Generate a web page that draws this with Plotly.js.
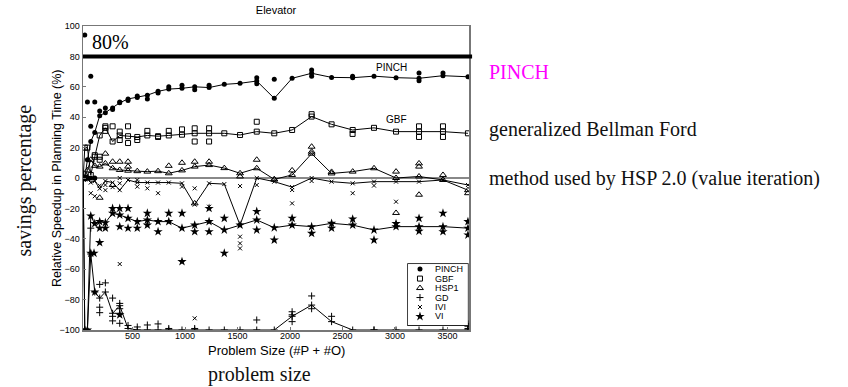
<!DOCTYPE html>
<html>
<head>
<meta charset="utf-8">
<script src="https://cdn.plot.ly/plotly-3.0.1.min.js"></script>
<style>html,body{margin:0;padding:0;background:#fff;}#chart{width:848px;height:387px;}</style>
</head>
<body>
<div id="chart"></div>
<script>
// problem sizes (#P + #O)
const sizes = [30, 45, 70, 102, 140, 187, 241, 310, 378, 457, 545, 641, 743, 845, 971, 1092, 1229, 1374, 1524, 1683, 1850, 2020, 2206, 2396, 2597, 2800, 3010, 3229, 3457, 3695];

// average relative speedup (%) per size
const pinchAvg = [0, 0, 12, 24, 30, 41, 43, 46, 49.5, 52, 53, 54.5, 57, 58.5, 59, 60, 59.5, 61.6, 62.3, 63.8, 52.4, 65.6, 68.9, 66.2, 66, 67, 66, 65.6, 67.3, 66.6];
const gbfAvg   = [0, 20, 20, 2, 14, 28, 33, 24, 28, 27.5, 27, 28, 27.5, 28, 28.5, 29.4, 29.4, 29.4, 28.3, 30.5, 29.4, 31.6, 40.4, 35.3, 31.6, 33, 30.5, 30.5, 30.5, 29.4];
const hsp1Avg  = [0, 0, 5, 12, 8, 7.5, 9.6, 6.4, 5.3, 4.8, 4.5, 4.2, 4.5, 3.1, 5, 7.5, 8.5, 6.5, 3.1, 6.4, -0.9, 2, 16, 3, 4.2, 6.4, 0, 1, -1.3, -8];
const gdAvg    = [0, -100, -100, -50, -75, -79, -75, -89, -84, -99, -100, -100, -100, -100, -100, -100, -100, -100, -100, -100, -100, -91, -83.6, -94.5, -100, -100, -100, -100, -100, -100];
const iviAvg   = [0, 0, 0, -3, -2, -7, -2, -3, -8, -1.3, -3, -3, -3, -3, -3.5, -17.5, -3.5, -4, -31, 0, -2.4, -6, 0, -2.4, -3.5, -2.4, -2.4, -2.4, -1.3, -4.6];
const viAvg    = [0, -100, -100, -25, -30, -28.7, -29.4, -23.2, -24.3, -26.5, -28.7, -27.6, -28.7, -28.7, -33, -31, -28.7, -34.2, -31, -27.6, -32.7, -31, -32, -29.8, -31, -34.2, -32, -32, -32, -33];

// individual runs (scatter)
const pinchRunX = [45, 70, 140, 102, 102, 30, 45, 70, 102, 140, 187, 241, 310, 378, 457, 545, 641, 743, 845, 971, 1092, 1850, 2206, 2206, 1683, 1683, 3229, 3229, 3457, 1229, 2596];
const pinchRunY = [94, 50, 50, 67, 34, 0, 0, 0, 0, 0, 44, 46, 45, 50, 51, 54, 52, 56, 60, 61, 58, 65, 71, 67, 66, 62, 64, 69, 69, 61, 67];
const gbfRunX = [140, 187, 187, 241, 241, 310, 378, 378, 457, 457, 545, 641, 743, 845, 971, 1092, 1092, 1229, 1229, 1683, 2206, 3229, 3229, 3457, 3457, 2596, 30, 45];
const gbfRunY = [15, 14, 12, 34, 31, 34, 30.5, 25, 34, 23, 25, 31, 27, 31, 32, 24, 32.7, 32.7, 24, 37, 42, 27, 34, 27, 34, 29, 0, 0];
const hsp1RunX = [241, 310, 187, 310, 378, 457, 457, 845, 971, 1092, 1229, 1524, 1683, 2206, 2206, 3010, 3229, 3229, 3229, 3010, 1092, 1850, 2020, 2396, 3457, 3695];
const hsp1RunY = [16, 10.7, -13, -4.6, 10.7, 10.7, 7.5, 8, 10, 10.7, 10.7, 1, 12, 20.6, 17.3, 4.2, 9.6, 7.5, -11, -23, -16.7, -1, 5, 4, 2, -10];
const gdRunX = [102, 187, 241, 187, 187, 310, 378, 378, 378, 310, 378, 310, 457, 545, 641, 743, 845, 1092, 1683, 2020, 2020, 2020, 2206, 2206, 2396, 2800, 3695, 3695, 3695];
const gdRunY = [-33, -70, -69, -85, -88.6, -79, -82.5, -86, -89, -91, -95.6, -94, -97, -98, -96.7, -96, -99, -99, -93.4, -88, -90, -94.5, -77.6, -86, -91, -100, -96, -97.5, -99];
const iviRunX = [241, 378, 378, 378, 545, 545, 641, 743, 1092, 1092, 1229, 1524, 1524, 1524, 1524, 2020, 2020, 1683, 2597, 3010, 187, 241, 310, 102, 140, 971, 2206, 2800];
const iviRunY = [-4.6, 0, -3.5, -56.6, -1.3, -5.7, -6.8, -10, -6.8, -92.3, -18.9, -5.3, -38.6, -43, -46.3, -7.9, -16.7, -4.6, -10, -15.6, -5, -8, -6, -10, -12, -5.7, -2, -5];
const viRunX = [30, 45, 70, 102, 133, 187, 187, 241, 310, 378, 457, 378, 457, 641, 743, 845, 971, 971, 1092, 1229, 1229, 1374, 1374, 1683, 1683, 1850, 2020, 2206, 2800, 3229, 3457, 3457, 3695, 3695, 140, 378, 545, 641, 2396, 2597, 3010, 3229];
const viRunY = [0, 0, 0, -49.5, -49.5, -42.5, -33, -33, -20, -20, -20, -32, -33, -23.2, -35.3, -23.2, -23.2, -55, -35.3, -20, -35.3, -26.5, -49.5, -22, -34.2, -40.8, -26.5, -36.4, -40.8, -26.5, -23.2, -35.3, -28.7, -37.5, -75, -90, -33, -31, -33, -27, -30, -35];

const seriesNames = ['PINCH', 'GBF', 'HSP1', 'GD', 'IVI', 'VI'];
const yTicks = [-100, -80, -60, -40, -20, 0, 20, 40, 60, 80, 100];
const xTicks = [500, 1000, 1500, 2000, 2500, 3000, 3500];

const markerStyles = [
  {symbol: 'circle', size: 5, color: '#000'},
  {symbol: 'square-open', size: 5, color: '#000', line: {width: 1, color: '#000'}},
  {symbol: 'triangle-up-open', size: 6, color: '#000', line: {width: 1, color: '#000'}},
  {symbol: 'cross-thin-open', size: 5, color: '#000', line: {width: 1, color: '#000'}},
  {symbol: 'x-thin-open', size: 4, color: '#000', line: {width: 1, color: '#000'}},
  {symbol: 'star', size: 7, color: '#000'}
];
const avgs = [pinchAvg, gbfAvg, hsp1Avg, gdAvg, iviAvg, viAvg];
const runsX = [pinchRunX, gbfRunX, hsp1RunX, gdRunX, iviRunX, viRunX];
const runsY = [pinchRunY, gbfRunY, hsp1RunY, gdRunY, iviRunY, viRunY];

const traces = [];
seriesNames.forEach((name, i) => {
  traces.push({x: sizes, y: avgs[i], type: 'scatter', mode: 'lines+markers', name: name,
    line: {color: '#000', width: 1}, marker: markerStyles[i], showlegend: false, cliponaxis: true});
  traces.push({x: runsX[i], y: runsY[i], type: 'scatter', mode: 'markers', name: name,
    marker: markerStyles[i], showlegend: false, cliponaxis: true});
});
// hand-built legend on a helper axis
seriesNames.forEach((name, i) => {
  traces.push({x: [0.2], y: [5.5 - 0.93 * i], xaxis: 'x2', yaxis: 'y2', type: 'scatter', mode: 'markers',
    marker: markerStyles[i], showlegend: false, hoverinfo: 'skip'});
});

const F = 'Liberation Sans, Arial, sans-serif';
const S = 'Liberation Serif, Times New Roman, serif';
function note(text, x, y, font, extra) {
  return Object.assign({text: text, xref: 'paper', yref: 'paper', x: x, y: y, xanchor: 'center', yanchor: 'middle', showarrow: false, font: font}, extra || {});
}
const annotations = [
  note('80%', 0.0725, 0.949, {family: S, size: 20, color: '#000'}),
  note('PINCH', 0.8005, 0.865, {family: F, size: 10, color: '#000'}),
  note('GBF', 0.811, 0.691, {family: F, size: 10, color: '#000'}),
  note('PINCH', 1.0466, 0.8487, {family: S, size: 20, color: '#ff00ff'}, {xanchor: 'left'}),
  note('generalized Bellman Ford', 1.0466, 0.6579, {family: S, size: 20, color: '#111'}, {xanchor: 'left'}),
  note('method used by HSP 2.0 (value iteration)', 1.0466, 0.5, {family: S, size: 20, color: '#111'}, {xanchor: 'left'}),
  note('savings percentage', -0.152, 0.493, {family: S, size: 20, color: '#111'}, {textangle: -90}),
  note('problem size', 0.457, -0.148, {family: S, size: 20, color: '#111'}),
  note('Relative Speedup in Planning Time (%)', -0.0674, 0.5, {family: F, size: 12.5, color: '#000'}, {textangle: -90}),
  note('Problem Size (#P + #O)', 0.5, -0.069, {family: F, size: 13, color: '#000'})
];
seriesNames.forEach((name, i) => {
  annotations.push({text: name, xref: 'x2', yref: 'y2', x: 0.41, y: 5.5 - 0.93 * i, xanchor: 'left', yanchor: 'middle',
    showarrow: false, font: {family: F, size: 9, color: '#000'}});
});

const layout = {
  width: 848, height: 387,
  margin: {l: 83, r: 379, t: 26, b: 57},
  paper_bgcolor: '#fff', plot_bgcolor: '#fff',
  showlegend: false,
  title: {text: 'Elevator', font: {family: F, size: 11, color: '#000'}, xref: 'paper', x: 0.5, yref: 'container', y: 0.974, yanchor: 'middle'},
  xaxis: {range: [28, 3705], tickvals: xTicks, ticktext: xTicks.map(String), ticks: 'inside', ticklen: 3, tickcolor: '#777',
    showgrid: false, zeroline: false, showline: true, linecolor: '#777', linewidth: 1.5, mirror: true, ticklabelstandoff: -3,
    tickfont: {family: F, size: 9, color: '#000'}},
  yaxis: {range: [-100, 100], tickvals: yTicks, ticks: 'inside', ticklen: 3, tickcolor: '#777',
    showgrid: false, zeroline: true, zerolinecolor: '#888', zerolinewidth: 1.5, showline: true, linecolor: '#777', linewidth: 1.5, mirror: true,
    tickfont: {family: F, size: 9, color: '#000'}},
  xaxis2: {domain: [0.842, 0.997], range: [0, 1], visible: false, fixedrange: true},
  yaxis2: {domain: [0.016, 0.217], range: [0, 6], visible: false, fixedrange: true, anchor: 'x2'},
  shapes: [
    {type: 'line', xref: 'paper', yref: 'y', x0: 0, x1: 1.008, y0: 80, y1: 80, line: {color: '#000', width: 4}},
    {type: 'rect', xref: 'paper', yref: 'paper', x0: 0.842, x1: 0.997, y0: 0.016, y1: 0.217, line: {color: '#000', width: 1.5}, fillcolor: '#fff', layer: 'below'}
  ],
  annotations: annotations
};
Plotly.newPlot('chart', traces, layout, {staticPlot: true, displayModeBar: false});
</script>
</body>
</html>
